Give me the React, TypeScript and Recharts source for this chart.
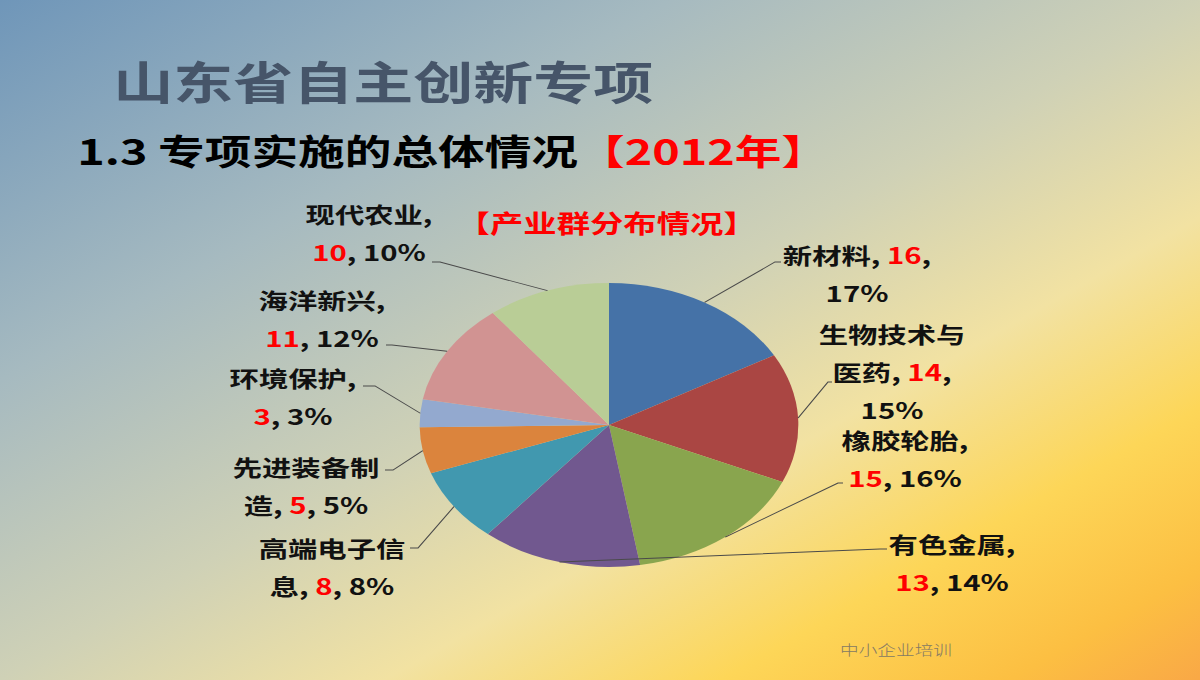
import React from 'react';
import { PieChart, Pie, Cell } from 'recharts';

// 山东省自主创新专项 2012 — 产业群分布
const categories = ['新材料', '生物技术与医药', '橡胶轮胎', '有色金属', '高端电子信息', '先进装备制造', '环境保护', '海洋新兴', '现代农业'];
const values = [16, 14, 15, 13, 8, 5, 3, 11, 10];
const percents = [17, 15, 16, 14, 8, 5, 3, 12, 10];
const colors = ['#4572A7', '#AA4643', '#89A54E', '#71588F', '#4198AF', '#DB843D', '#93A9CF', '#D19392', '#B9CD96'];

// the slide is a 4:3 deck stretched to 16:9
const SX = 4 / 3;
const W = 1200 / SX;
const H = 680;
const FONT = "'Noto Sans CJK SC', 'Noto Sans', sans-serif";
const RAD = Math.PI / 180;

// label placement in page pixels: text centre / first line, leader elbow and stub end
// split = name chars on the first line; mode = how value/percent wrap after the name
const labelLayout = [
  { tx: 857, ty: 254, ex: 775, ey: 262, sx: 781, split: 3, mode: 'A' },
  { tx: 892, ty: 333, ex: 828, ey: 382, sx: 832, split: 5, mode: 'A' },
  { tx: 905, ty: 439, ex: 838, ey: 483, sx: 843, split: 4, mode: 'C' },
  { tx: 952, ty: 543, ex: 880, ey: 549, sx: 887, split: 4, mode: 'C' },
  { tx: 332, ty: 547, ex: 418, ey: 548, sx: 410, split: 5, mode: 'D' },
  { tx: 306, ty: 466, ex: 393, ey: 470, sx: 385, split: 5, mode: 'D' },
  { tx: 293, ty: 377, ex: 375, ey: 386, sx: 363, split: 4, mode: 'C' },
  { tx: 322, ty: 299, ex: 392, ey: 345, sx: 386, split: 4, mode: 'C' },
  { tx: 369, ty: 213, ex: 440, ey: 262, sx: 432, split: 4, mode: 'C' },
];

const data = categories.map((name, i) => ({ name, value: values[i], pct: percents[i] }));

type Seg = { t: string; red?: boolean };

function buildLines(name: string, value: number, pct: number, split: number, mode: string): Seg[][] {
  const lines: Seg[][] = [];
  const first = name.slice(0, split);
  const rest = name.slice(split);
  let cur: Seg[];
  if (rest) {
    lines.push([{ t: first }]);
    cur = [{ t: rest }];
  } else {
    cur = [{ t: first }];
  }
  if (mode === 'A') {
    cur.push({ t: ', ' }, { t: String(value), red: true }, { t: ',' });
    lines.push(cur);
    lines.push([{ t: pct + '%' }]);
  } else if (mode === 'C') {
    cur.push({ t: ',' });
    lines.push(cur);
    lines.push([{ t: String(value), red: true }, { t: ', ' + pct + '%' }]);
  } else {
    cur.push({ t: ', ' }, { t: String(value), red: true }, { t: ', ' + pct + '%' });
    lines.push(cur);
  }
  return lines;
}

const renderLabel = (props: any) => {
  const { cx, cy, midAngle, outerRadius, index } = props;
  const lay = labelLayout[index];
  const d = data[index];
  const px = cx + outerRadius * Math.cos(-midAngle * RAD);
  const py = cy + outerRadius * Math.sin(-midAngle * RAD);
  const lines = buildLines(d.name, d.value, d.pct, lay.split, lay.mode);
  return (
    <g key={'lbl' + index}>
      <polyline
        points={`${px},${py} ${lay.ex / SX},${lay.ey} ${lay.sx / SX},${lay.ey}`}
        fill="none"
        stroke="#4a4a4a"
        strokeWidth={0.9}
      />
      {lines.map((segs, li) => (
        <text
          key={li}
          x={lay.tx / SX}
          y={lay.ty + li * 38}
          textAnchor="middle"
          dominantBaseline="central"
          fontFamily={FONT}
          fontWeight={700}
          fontSize={22}
          fill="#111"
        >
          {segs.map((s, si) => (
            <tspan key={si} fill={s.red ? '#ff0000' : '#111'}>{s.t}</tspan>
          ))}
        </text>
      ))}
    </g>
  );
};

export default function App() {
  return (
    <div
      style={{
        position: 'absolute',
        left: 0,
        top: 0,
        width: 1200,
        height: 680,
        overflow: 'hidden',
        background:
          'linear-gradient(to bottom right, #6f96b9 0%, #a6bac0 28%, #cfd1b6 50%, #f2e2a2 66%, #fdd658 80%, #fcbf42 92%, #f9a846 100%)',
      }}
    >
      <div style={{ position: 'absolute', left: 0, top: 0, width: W, height: H, transform: `scaleX(${SX})`, transformOrigin: '0 0' }}>
        <svg width={W} height={H} style={{ position: 'absolute', left: 0, top: 0 }}>
          <text x={85} y={80} dominantBaseline="central" fontFamily={FONT} fontWeight={700} fontSize={45} fill="#465569">
            山东省自主创新专项
          </text>
          <text x={58} y={150} dominantBaseline="central" fontFamily={FONT} fontWeight={700} fontSize={35} fill="#000">
            1.3 专项实施的总体情况<tspan fill="#ff0000">【2012年】</tspan>
          </text>
          <text x={455} y={222} textAnchor="middle" dominantBaseline="central" fontFamily={FONT} fontWeight={700} fontSize={25} fill="#ff0000">
            【产业群分布情况】
          </text>
          <text x={672} y={649} textAnchor="middle" dominantBaseline="central" fontFamily={FONT} fontWeight={300} fontSize={14} fill="#857a64">
            中小企业培训
          </text>
        </svg>
        <div style={{ position: 'absolute', left: 0, top: 0 }}>
          <PieChart width={W} height={H} margin={{ top: 0, right: 0, bottom: 0, left: 0 }}>
            <Pie
              data={data}
              dataKey="value"
              nameKey="name"
              cx={609 / SX}
              cy={425}
              outerRadius={142}
              startAngle={90}
              endAngle={-270}
              stroke="none"
              label={renderLabel}
              labelLine={false}
              isAnimationActive={false}
            >
              {data.map((d, i) => (
                <Cell key={d.name} fill={colors[i]} />
              ))}
            </Pie>
          </PieChart>
        </div>
      </div>
    </div>
  );
}
